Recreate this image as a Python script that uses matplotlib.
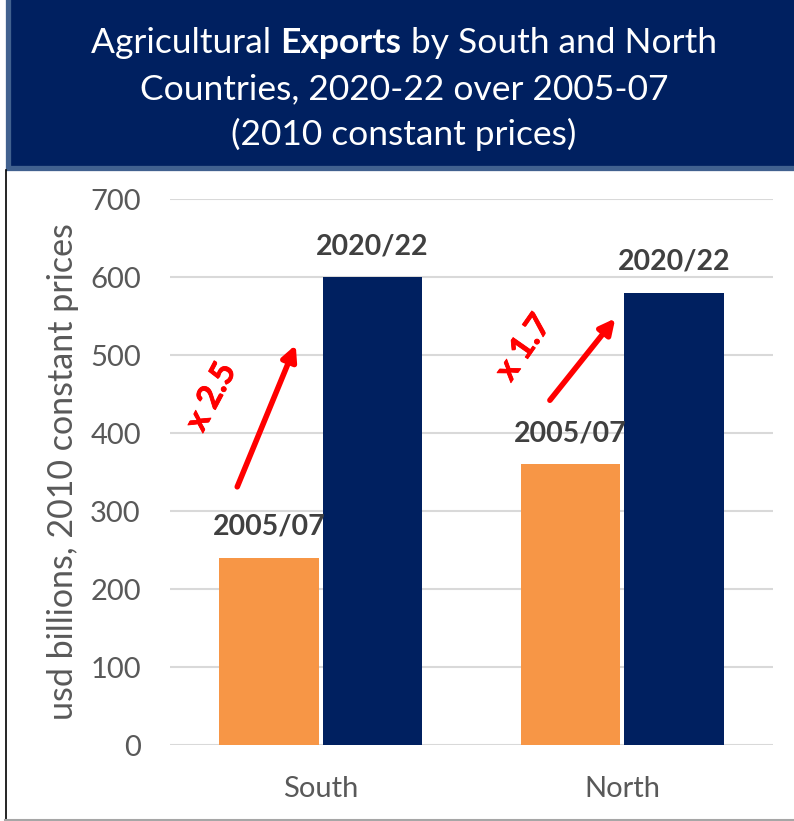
import matplotlib
matplotlib.use("Agg")
import matplotlib.pyplot as plt
import matplotlib.patheffects as pe
from matplotlib.patches import Rectangle
from matplotlib.lines import Line2D

plt.rcParams['font.family'] = ['Lato', 'DejaVu Sans']

# Data
regions = ["South", "North"]
period_labels = ["2005/07", "2020/22"]
exports_2005_07 = [240, 360]
exports_2020_22 = [600, 580]
growth_labels = ["x 2.5", "x 1.7"]
yticks = [0, 100, 200, 300, 400, 500, 600, 700]

ORANGE = "#F79646"
NAVY = "#002060"
GRID = "#D9D9D9"
TEXT = "#595959"
LABEL = "#404040"

W, H = 794, 821
fig = plt.figure(figsize=(W / 100, H / 100), dpi=100)

def fx(px):
    return px / W

def fy(py):
    return 1 - py / H

# Header banner
fig.patches.append(Rectangle((fx(7.5), fy(168)), fx(W + 20), fy(-20) - fy(168),
                             transform=fig.transFigure, facecolor=NAVY,
                             edgecolor="#41618F", linewidth=3.8, zorder=0))
# Frame lines around the chart area
fig.add_artist(Line2D([fx(5.5), fx(5.5)], [fy(170), fy(820)], color="black", lw=1.2))
fig.add_artist(Line2D([fx(5), fx(W)], [fy(819.5), fy(819.5)], color="#A6A6A6", lw=1.5))

# Title, with "Exports" in bold on the first line
fs_title = 25.5
cx = fx(404)
parts = [("Agricultural ", "normal"), ("Exports", "bold"), (" by South and North", "normal")]
fig.canvas.draw()
renderer = fig.canvas.get_renderer()
widths = []
tmp = []
for s, w in parts:
    t = fig.text(0, 0, s, fontsize=fs_title, fontweight=w)
    tmp.append(t)
    widths.append(t.get_window_extent(renderer).width)
for t in tmp:
    t.remove()
total = sum(widths)
x0 = cx * W - total / 2
for (s, w), wd in zip(parts, widths):
    fig.text(x0 / W, fy(43), s, fontsize=fs_title, fontweight=w, color="white",
             ha="left", va="center")
    x0 += wd
fig.text(cx, fy(89), "Countries, 2020-22 over 2005-07", fontsize=fs_title,
         color="white", ha="center", va="center")
fig.text(cx, fy(134), "(2010 constant prices)", fontsize=fs_title,
         color="white", ha="center", va="center")

# Plot area
ax = fig.add_axes([fx(170), fy(745), fx(773) - fx(170), fy(199) - fy(745)])
x = range(len(regions))
bw = 0.33
off = 0.172
xa = [i - off for i in x]
xb = [i + off for i in x]
ax.bar(xa, exports_2005_07, width=bw, color=ORANGE, zorder=2)
ax.bar(xb, exports_2020_22, width=bw, color=NAVY, zorder=2)

ax.set_xlim(-0.5, 1.5)
ax.set_ylim(0, 700)
ax.set_yticks(yticks)
ax.set_yticklabels([str(v) for v in yticks])
ax.set_xticks(list(x))
ax.set_xticklabels(regions)
ax.yaxis.grid(True, color=GRID, linewidth=1.5, zorder=0)
ax.set_axisbelow(True)
for sp in ax.spines.values():
    sp.set_visible(False)
ax.tick_params(axis="both", length=0, colors=TEXT, labelsize=21)
ax.tick_params(axis="y", pad=21)
ax.tick_params(axis="x", pad=22)
ax.set_ylabel("usd billions, 2010 constant prices", fontsize=24.5, color=TEXT, labelpad=8)

# Period labels above bars
for xs, vals, lbl in ((xa, exports_2005_07, period_labels[0]),
                      (xb, exports_2020_22, period_labels[1])):
    for xi, v in zip(xs, vals):
        ax.annotate(lbl, (xi, v), xytext=(0, 31), textcoords="offset pixels",
                    ha="center", va="center", fontsize=20.5, fontweight="bold", color=LABEL)

# Growth arrows and multipliers
arrows = [((-0.277, 331), (-0.083, 513)), ((0.76, 442), (0.977, 547))]
text_pos = [(-0.363, 446), (0.673, 509)]
text_rot = [62, 55]
for (start, end), pos, rot, lbl in zip(arrows, text_pos, text_rot, growth_labels):
    ax.annotate("", xy=end, xytext=start,
                arrowprops=dict(arrowstyle="-|>,head_length=0.9,head_width=0.45",
                                color="red", lw=4, shrinkA=0, shrinkB=0))
    ax.text(pos[0], pos[1], lbl, rotation=rot, color="red", fontsize=24,
            fontweight="bold", ha="center", va="center", rotation_mode="anchor",
            path_effects=[pe.withStroke(linewidth=0.6, foreground="red")])

fig.savefig("out.png", dpi=100)
